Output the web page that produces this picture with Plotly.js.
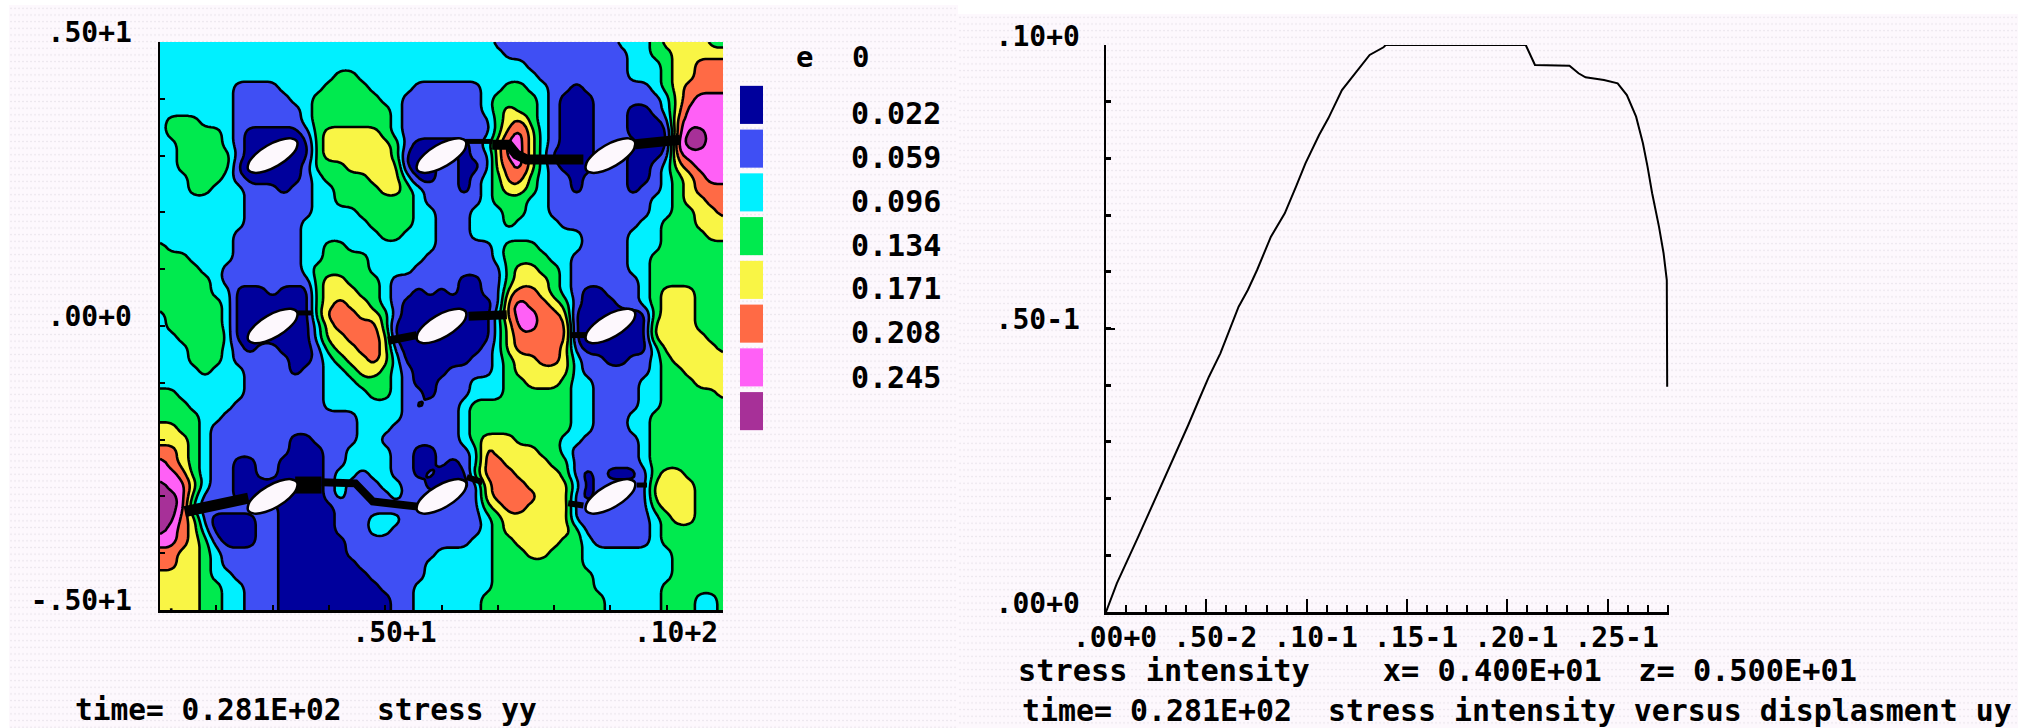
<!DOCTYPE html>
<html>
<head>
<meta charset="utf-8">
<script src="https://cdn.plot.ly/plotly-3.0.1.min.js"></script>
<style>
html,body{margin:0;padding:0;background:#ffffff;}
#wrap{position:relative;width:2018px;height:728px;overflow:hidden;}
.pane{position:absolute;background-color:#fdf8fd;
 background-image:radial-gradient(circle,#ece7ee 0.9px,transparent 1.1px);
 background-size:4px 6.67px;}
#chart{position:absolute;left:0;top:0;width:2018px;height:728px;}
</style>
</head>
<body>
<div id="wrap">
<div class="pane" style="left:9px;top:5px;width:949px;height:723px"></div>
<div class="pane" style="left:958px;top:14px;width:1060px;height:714px"></div>
<div id="chart"></div>
</div>
<script>
// stress yy band values (one per contour band, read from the key)
const bandValues = [0.022,0.059,0.096,0.134,0.171,0.208,0.245,0.282];
const legendLabels = ["0.022","0.059","0.096","0.134","0.171","0.208","0.245"];
const legendColors = ["#00009c","#3f4ff4","#00f0ff","#00ea4e","#f9f545","#ff6a45","#ff60f6","#a73098"];

// band index per grid cell, top row first, left to right; "bxn" = band b repeated n times
const bandRows = [
"3x25 3x5 2 2x10 3x3 4 5x4 4x2",
"3x25 3x6 2x11 3x2 4x2 5x5",
"3x25 3x8 2x9 3x3 4 5x2 6x3",
"3x16 4x2 3x7 3x9 2x8 3x3 4 5x2 6x3",
"3x7 2x4 3x4 4x4 3x4 2x2 2x4 3x2 4x2 3x2 2x2 1 2x6 3 4 5 6x4",
"3x7 2x5 3x2 4x6 3x2 2x3 2x4 3 4x4 3 2 1x3 2x6 3 5 6 7x3",
"3x7 2x6 3 4x7 3 2x3 2x4 3 4 5 4x2 3 2 1x3 2x3 1x2 2 3 5 7x4",
"3 4x3 3x3 2x6 3 4x7 3 2x3 2x2 1 2x2 4 5 6 4 3 2 1x3 2x3 1x3 2 6 7x4",
"3 4x5 3 2 1x5 2 4 5x5 4 3 2x3 2x5 4 6 7 5 3 2 1x3 2x3 1x4 6 8x2 7x2",
"3x2 4x4 3 2 1x6 4 5x6 4 2 1x2 1x3 2 3 5 7x2 5 3 2 1x3 2x4 1x3 7 8x2 7x2",
"3x2 4x5 2 1x6 4 5x6 4 1x3 2x2 1 2x2 5 7x2 5 3 1x4 2x3 1x3 2 6 7x4",
"3x2 4x5 1x6 2 4x3 5x5 1x3 2x2 1x2 2 5 6 7 5 3 2 1x3 2x3 1x2 2 3 5 6 7x3",
"3x3 4x3 3 2 1x5 2 3 4x4 5x3 3 1x2 2x2 1 2 3 4 6x2 4 3 2x2 1 2x4 1x2 2 3 4 5 6 7x2",
"3x3 4x2 3x3 2x3 1 2x2 3x2 4x4 5x2 4 3 2 2x2 1 2 3 4 5x2 4 3 2x2 1 2x4 1 2x2 3 4 5 6x3",
"3x8 2x6 3x2 4x7 3 2 2x4 3 4x3 3x2 2x9 3x2 4 5x2 6x2",
"3x8 2x6 3x4 4x5 3x2 2x3 3x3 4x2 3x2 2x9 3x2 4x2 5x2 6",
"3x8 2x5 3x6 4x4 3x2 2x3 3x3 4 3x4 2x7 3x2 4x3 5x3",
"3x7 2x6 3x7 4x2 3x3 2x3 3x10 2x4 3x3 4x4 5x2",
"4 3x6 2x6 3x2 4x2 3x8 2x5 3 4x3 3x4 2x4 3x3 4x6",
"4x3 3x4 2x6 3x2 4x4 3x5 2 2x5 3 4x4 3x2 2x5 3x2 4x7",
"4x4 3x2 2x7 3 4x5 3x4 2x2 2x6 4 5x2 4x2 3 2x5 3x2 4x7",
"4x5 3 2x8 4 5x2 4x3 3 2x4 2x2 1x2 2x2 4 5x3 4 3 2x6 3 4x7",
"4x5 3x2 1x3 2 1x3 4 5x3 4x2 3 2x2 1 2 1 2 1x2 2x2 5 6x2 5 4 3 2 1x2 2x3 3 4 5x3 4x3",
"4x6 3 1x7 4 5 6 5x2 4 3 2 1x3 1x5 2 6 7 6x2 5 4 2 1x3 2x2 3 4 5x3 4x3",
"3 4x5 3 1x7 4 6x3 5x2 4 2 1x3 1x5 3 6 7x2 6x2 5 1x7 4 5x3 4x3",
"3 4x5 3 1x7 3 5 6x4 4 1x4 1x5 3 5 7x2 6x3 1x7 5x4 4x3",
"3x2 4x3 5 3 1x7 3 5x2 6x3 5 1x4 1x5 3 5 6x5 1x7 5x5 4x2",
"3x3 4x3 3 2 1 2x2 1x3 2 4 5x2 6x2 5 2 1x3 1x4 2 3 5 6x4 5 2 1x6 3 5x5 4",
"3x3 4x3 3 2x5 1x2 2 3 4 5x2 6 5 3 1x3 1x3 2x2 3 4 5x2 6x2 5 3 2x2 1x2 2x2 3 4 5x5",
"3x4 4 3x3 2x4 1 2x2 3x2 4 5x2 4 3 2 1x2 1 2x4 3 4 5x5 3 2x6 3 4x2 5x4",
"3x8 2x7 3x3 4x3 3 2 1x2 2x3 3x3 4x2 5x3 4 3x2 2x4 3x2 4x3 5x3",
"4x2 3x6 2x7 3x4 4x2 3 2x2 1 2x3 3x3 4x6 3x2 2x4 3x2 4x5 5",
"4x3 3x4 2x8 3x7 2 1 2 2x2 3 4x9 3x2 2x4 3x2 4x6",
"4x4 3x2 2x12 3x4 2x3 2x2 3 4x9 3x2 2x3 3x2 4x7",
"5x2 4x2 3 2x13 3x3 2x4 2x2 3 4x9 3x2 2x3 3x2 4x7",
"5x3 4 3 2x7 1x2 2x4 3x2 2x5 2x2 3 4 5x3 4x4 3x2 2x5 3 4x7",
"6x2 5 4 3 2x7 1x3 2x2 3x4 2x2 1x2 2x3 3 6 5x4 4x2 3 2x6 3 4x7",
"7 6 5 4 3 2x2 1x2 2x2 1x4 2x2 3x4 2x2 1x2 2 1 2 3 6x2 5x4 4x2 2x6 3 4x7",
"7x2 6 4 3 2x2 1x2 2x2 1x4 2 3x2 2 3x2 2x2 1 2 1x3 4 6x3 5x4 4 2 1 2 1x3 2 4 5x2 4x4",
"8 7x2 5 3 2x2 1x8 2 3 2x3 3x2 2x2 1 1x3 2 5 6x3 5x4 3 1 2x5 5x4 4x3",
"8x2 7 4 2x3 1x8 2 3 2x4 3 2x3 2x4 5 6x4 5x3 2 1 2x5 5x4 4x3",
"8x2 7 3 2x7 1x5 2x9 2x4 4 5 6x2 5x2 6 5 2x7 4 5x3 4x3",
"8x2 6 5 2 1x4 2x2 1x5 2x3 3x3 2x3 2x4 3 4 5x6 2x7 3 4 5x2 4x3",
"8 7 6 5 3 1x4 2x2 1x5 2x3 3x2 2x4 2x4 3 4 5x6 4 2x6 3 4x6",
"7x2 6 5 4 2 1x3 2x2 1x6 2x8 2x3 3x2 4x2 5x4 4x2 3 2x5 3 4x6",
"6x2 5x2 4 3 2x5 1x6 2x8 3x5 4x3 5x2 4x3 3x8 4x5",
"6x2 5x2 4 3 2x5 1x7 2x6 3 3x5 4x8 3x8 4x5",
"5x4 4 3x2 2x4 1x8 2x5 3 3x5 4x9 3x7 4x5",
"5x4 4x2 3x2 2x3 1x9 2x3 3x2 3x5 4x9 3x6 4x6",
"5x4 4x2 3x2 2x3 1x10 2x2 3x2 3x4 4x11 3x5 4x3 3x2 4",
"5 4 5x2 4x2 3x2 2x3 1x10 2x2 3x2 3x4 4x11 3x5 4x3 3x2 4"
];

// elliptical openings: centres (x, y) and one outline
const holeCentreX = [2,5,8,2,5,8,2,5,8];
const holeCentreY = [3,3,3,0,0,0,-3,-3,-3];
const holeOutlineX = [0.433,0.325,0.13,-0.1,-0.303,-0.425,-0.433,-0.325,-0.13,0.1,0.303,0.425,0.433];
const holeOutlineY = [0.25,0.303,0.275,0.173,0.025,-0.13,-0.25,-0.303,-0.275,-0.173,-0.025,0.13,0.25];

// crack segments
const crackX = [[5.42,5.9],[5.9,6.19,6.33,6.51,7.52],[8.44,9.24],[2.40,2.69],[4.05,4.56],[5.48,6.16],[7.28,7.57],[0.44,1.1,1.57],[2.4,2.87],[2.87,3.47,3.78,4.58],[5.45,5.73],[7.25,7.52],[8.47,8.65]];
const crackY = [[3.25,3.25],[3.19,3.19,3.02,2.93,2.93],[3.2,3.28],[0.23,0.23],[-0.26,-0.16],[0.17,0.2],[-0.16,-0.16],[-3.27,-3.12,-3.03],[-2.8,-2.8],[-2.75,-2.77,-3.09,-3.18],[-2.66,-2.75],[-3.12,-3.16],[-2.8,-2.8]];
const crackWidths = [5,10,10,5,8,9,6,11,17,8,6,6,5];

// stress intensity versus displacement uy
const uy = [0,0.00054,0.00161,0.00281,0.00339,0.0041,0.00467,0.00513,0.0057,0.00661,0.00707,0.00753,0.00822,0.00891,0.00947,0.00994,0.01062,0.01108,0.01176,0.01256,0.01314,0.01383,0.01394,0.02092,0.02138,0.0231,0.02355,0.0239,0.02482,0.0255,0.02596,0.02642,0.02676,0.02699,0.02722,0.02756,0.02779,0.02795,0.02797];
const stressIntensity = [0,0.00506,0.01328,0.0227,0.02716,0.03298,0.03774,0.0415,0.04562,0.05385,0.05679,0.06032,0.0662,0.07032,0.07501,0.07914,0.08413,0.08707,0.09206,0.09559,0.09824,0.09959,0.1,0.1,0.09647,0.09635,0.09501,0.0943,0.09383,0.09325,0.09118,0.08736,0.08266,0.07855,0.07385,0.06796,0.06327,0.05855,0.03974];

// axis ticks
const mapXTicks = [0,1,2,3,4,5,6,7,8,9,10];
const mapXText = ["","","","","",".50+1","","","","",".10+2"];
const mapYTicks = [-5,-4,-3,-2,-1,0,1,2,3,4,5];
const mapYText = ["-.50+1","","","","",".00+0","","","","",".50+1"];
const lineXTicks = [0,0.005,0.01,0.015,0.02,0.025];
const lineXText = [".00+0",".50-2",".10-1",".15-1",".20-1",".25-1"];
const lineYTicks = [0,0.05,0.1];
const lineYText = [".00+0",".50-1",".10+0"];

// ---- build ----
const W = 2018, H = 728;
const fx = p => p / W, fy = p => 1 - p / H;
const MONO = '"DejaVu Sans Mono", monospace';
const tickFont = {family: MONO, size: 28, color: '#000', weight: 700};

const coarse = bandRows.map(r => r.split(' ').flatMap(t => {
  const [b, n] = t.split('x');
  return Array(n ? +n : 1).fill(bandValues[+b - 1]);
}));

// refine the read grid so that the band edges run as rounded lines
const F = 4, ROWS = coarse.length, COLS = coarse[0].length;
const NR = (ROWS - 1) * F + 1, NC = (COLS - 1) * F + 1;
const fine = [];
for (let i = 0; i < NR; i++) {
  const a = Math.min(Math.floor(i / F), ROWS - 2), u = i / F - a, row = [];
  for (let j = 0; j < NC; j++) {
    const b = Math.min(Math.floor(j / F), COLS - 2), v = j / F - b;
    row.push((1 - u) * ((1 - v) * coarse[a][b] + v * coarse[a][b + 1]) + u * ((1 - v) * coarse[a + 1][b] + v * coarse[a + 1][b + 1]));
  }
  fine.push(row);
}
const R = 2, grid = fine.map((row, i) => row.map((_, j) => {
  let s = 0, k = 0;
  for (let di = -R; di <= R; di++) for (let dj = -R; dj <= R; dj++) {
    const ii = i + di, jj = j + dj;
    if (ii >= 0 && ii < NR && jj >= 0 && jj < NC) { s += fine[ii][jj]; k++; }
  }
  return s / k;
}));
const gridX = grid[0].map((_, j) => j * 0.2 / F);
const gridY = grid.map((_, i) => 5 - i * 0.2 / F);

const nb = legendColors.length;
const scale = [];
legendColors.forEach((c, i) => {
  const lo = i === 0 ? 0 : (i - 0.5) / (nb - 1);
  const hi = i === nb - 1 ? 1 : (i + 0.5) / (nb - 1);
  scale.push([lo, c], [hi, c]);
});

const traces = [{
  type: 'contour', x: gridX, y: gridY, z: grid, xaxis: 'x', yaxis: 'y',
  zmin: bandValues[0], zmax: bandValues[nb - 1], zauto: false,
  autocontour: false, colorscale: scale, showscale: false, hoverinfo: 'skip',
  contours: {coloring: 'fill', showlines: true, start: 0.0405, end: 0.2637, size: 0.0372},
  line: {color: '#000', width: 2.6, smoothing: 0}
}];
crackX.forEach((xs, i) => traces.push({
  type: 'scatter', mode: 'lines', x: xs, y: crackY[i], xaxis: 'x', yaxis: 'y', hoverinfo: 'skip',
  line: {color: '#000', width: crackWidths[i]}
}));
holeCentreX.forEach((cx, i) => traces.push({
  type: 'scatter', mode: 'lines', xaxis: 'x', yaxis: 'y', hoverinfo: 'skip',
  x: holeOutlineX.map(v => cx + v), y: holeOutlineY.map(v => holeCentreY[i] + v),
  fill: 'toself', fillcolor: '#fdf8fd', line: {color: '#000', width: 2.5, shape: 'spline'}
}));
traces.push({
  type: 'bar', orientation: 'h', xaxis: 'x2', yaxis: 'y2', hoverinfo: 'skip',
  y: legendColors.map((_, i) => i), x: legendColors.map(() => 1), width: 0.87,
  marker: {color: legendColors}
});
traces.push({
  type: 'scatter', mode: 'lines', x: uy, y: stressIntensity, xaxis: 'x3', yaxis: 'y3', hoverinfo: 'skip',
  line: {color: '#000', width: 2}
});

function note(text, px, py, anchor, size) {
  return {text, x: fx(px), y: fy(py), xref: 'paper', yref: 'paper', xanchor: anchor || 'left', yanchor: 'middle',
    showarrow: false, font: {family: MONO, size: size || 29, color: '#000', weight: 700}};
}
const annotations = [
  note('time= 0.281E+02  stress yy', 73, 710, 'left', 29.5),
  note('e', 794, 57), note('0', 850, 57),
  note('stress intensity    x= 0.400E+01  z= 0.500E+01', 1016, 670, 'left', 30.3),
  note('time= 0.281E+02  stress intensity versus displasment uy', 1020, 710, 'left', 29.9)
];
legendLabels.forEach((t, i) => annotations.push(note(t, 943, 113 + i * 44, 'right', 30)));

const axisBase = {showgrid: false, zeroline: false, linecolor: '#000', linewidth: 2.5, showline: true,
  ticks: 'inside', tickcolor: '#000', tickwidth: 2, tickfont: tickFont, tickmode: 'array'};

const layout = {
  width: W, height: H, margin: {l: 0, r: 0, t: 0, b: 0, pad: 0},
  paper_bgcolor: 'rgba(0,0,0,0)', plot_bgcolor: 'rgba(0,0,0,0)', showlegend: false,
  annotations,
  xaxis: Object.assign({}, axisBase, {anchor: 'y', domain: [fx(160), fx(723)], range: [0, 10],
    tickvals: mapXTicks, ticktext: mapXText, ticklen: 5, ticklabelshift: -47, ticklabelstandoff: -4}),
  yaxis: Object.assign({}, axisBase, {anchor: 'x', domain: [fy(610), fy(42)], range: [-5, 5], mirror: false,
    tickvals: mapYTicks, ticktext: mapYText, ticklen: 5, ticklabelshift: -10, ticklabelstandoff: 20}),
  xaxis2: {anchor: 'y2', domain: [fx(740), fx(763)], range: [0, 1], visible: false, fixedrange: true},
  yaxis2: {anchor: 'x2', domain: [fy(433), fy(83)], range: [7.5, -0.5], visible: false, fixedrange: true},
  xaxis3: Object.assign({}, axisBase, {anchor: 'y3', domain: [fx(1106), fx(1669)], range: [0, 0.02806],
    tickvals: lineXTicks, ticktext: lineXText, ticklen: 13, ticklabelshift: 9, ticklabelstandoff: -1,
    minor: {ticks: 'inside', dtick: 0.001, ticklen: 7, tickwidth: 2, tickcolor: '#000', showgrid: false}}),
  yaxis3: Object.assign({}, axisBase, {anchor: 'x3', domain: [fy(612), fy(45)], range: [0, 0.1],
    tickvals: lineYTicks, ticktext: lineYText, ticklen: 9, ticklabelshift: -9, ticklabelstandoff: 18,
    minor: {ticks: 'inside', dtick: 0.01, ticklen: 5, tickwidth: 3, tickcolor: '#000', showgrid: false}})
};
Plotly.newPlot('chart', traces, layout, {displayModeBar: false, staticPlot: true});
</script>
</body>
</html>
